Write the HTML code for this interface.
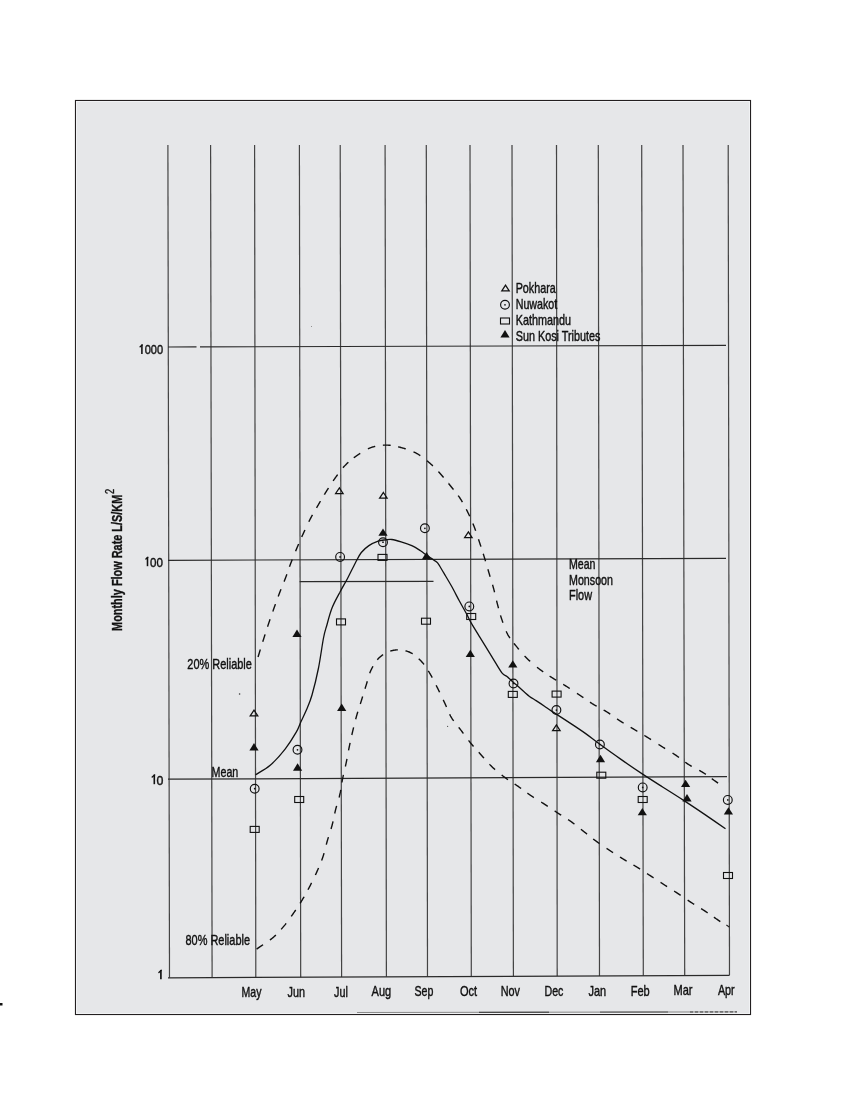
<!DOCTYPE html>
<html><head><meta charset="utf-8"><title>Monthly Flow Rate</title>
<style>html,body{margin:0;padding:0;background:#fff;width:850px;height:1100px;overflow:hidden}
svg{position:absolute;left:0;top:0;will-change:transform;font-family:"Liberation Sans", sans-serif}</style></head>
<body><svg width="850" height="1100" viewBox="0 0 850 1100">
<rect x="75.5" y="100.5" width="675" height="914" fill="#e6e7e9" stroke="#231f20" stroke-width="1.15"/>
<rect x="76.5" y="101.5" width="673" height="912" fill="none" stroke="#f1f2f4" stroke-width="1"/>
<g stroke="#444" stroke-width="1.2" fill="none"><line x1="167.9" y1="145.0" x2="169.5" y2="977.8"/><line x1="210.6" y1="145.0" x2="212.1" y2="977.6"/><line x1="254.6" y1="145.0" x2="255.8" y2="977.4"/><line x1="299.4" y1="145.0" x2="300.7" y2="977.2"/><line x1="340.2" y1="145.0" x2="341.6" y2="977.0"/><line x1="385.1" y1="145.0" x2="386.4" y2="976.8"/><line x1="426.3" y1="145.0" x2="427.5" y2="976.6"/><line x1="470.0" y1="145.0" x2="471.3" y2="976.4"/><line x1="512.0" y1="145.0" x2="513.4" y2="976.3"/><line x1="556.5" y1="145.0" x2="557.2" y2="976.1"/><line x1="598.3" y1="145.0" x2="599.5" y2="975.9"/><line x1="641.7" y1="145.0" x2="643.3" y2="975.7"/><line x1="683.0" y1="145.0" x2="684.7" y2="975.5"/><line x1="728.2" y1="145.0" x2="729.5" y2="975.3"/></g>
<g stroke="#2a2a2a" stroke-width="1.2" fill="none"><line x1="168.0" y1="560.3" x2="726.0" y2="558.4"/><line x1="168.0" y1="779.2" x2="727.0" y2="776.6"/><line x1="168.0" y1="977.8" x2="729.5" y2="975.3"/><line x1="168" y1="347.0" x2="196.5" y2="346.9"/><line x1="200" y1="346.9" x2="726" y2="345.4"/><line x1="299.6" y1="581.6" x2="433.5" y2="581.4"/></g>
<path d="M255.6 774.7 C258.0 773.1 265.2 769.6 270.2 765.3 C275.1 761.0 281.0 754.3 285.3 748.8 C289.6 743.3 293.5 736.9 296.1 732.4 C298.7 727.9 299.1 725.8 300.8 722.0 C302.5 718.2 304.6 714.3 306.5 709.8 C308.4 705.3 310.0 702.0 312.0 695.0 C314.0 688.0 316.6 677.5 318.5 668.0 C320.4 658.5 322.1 645.2 323.5 638.0 C324.9 630.8 325.4 630.1 326.9 625.0 C328.3 619.9 330.0 613.1 332.2 607.6 C334.4 602.1 337.3 597.1 339.9 592.3 C342.4 587.4 344.9 583.4 347.5 578.5 C350.1 573.6 352.9 567.5 355.2 563.2 C357.5 558.9 359.0 555.4 361.3 552.5 C363.6 549.6 366.1 547.5 368.9 545.6 C371.7 543.7 375.3 542.1 378.1 541.1 C380.9 540.1 383.5 540.1 385.8 539.8 C388.1 539.5 389.3 539.2 391.9 539.5 C394.4 539.8 397.8 540.8 401.1 541.8 C404.4 542.8 408.5 544.1 411.8 545.6 C415.1 547.1 418.3 549.3 420.9 551.0 C423.4 552.7 424.9 554.1 427.1 555.6 C429.3 557.1 432.2 558.9 434.0 560.2 C435.8 561.5 436.2 561.0 437.8 563.2 C439.4 565.4 441.6 569.4 443.9 573.2 C446.2 577.1 449.0 581.7 451.6 586.3 C454.2 590.9 456.8 596.2 459.4 601.0 C462.0 605.8 465.2 611.3 467.1 614.9 C469.0 618.5 468.9 619.0 471.0 622.6 C473.1 626.2 476.0 630.9 479.5 636.6 C483.0 642.3 488.1 650.6 491.8 656.6 C495.5 662.6 499.3 669.5 501.9 672.9 C504.5 676.2 505.4 675.1 507.3 676.7 C509.2 678.3 511.7 680.9 513.5 682.5 C515.3 684.1 516.5 685.0 518.2 686.5 C519.9 688.0 521.9 690.0 523.8 691.6 C525.7 693.2 527.5 694.9 529.5 696.4 C531.5 697.9 533.6 699.0 536.1 700.6 C538.6 702.2 541.9 704.4 544.5 706.2 C547.1 708.0 547.6 708.5 552.0 711.4 C556.4 714.3 565.4 720.0 570.9 723.6 C576.4 727.2 580.2 729.7 585.0 733.1 C589.8 736.5 593.9 739.9 599.9 744.3 C605.9 748.7 613.9 754.4 621.0 759.4 C628.1 764.4 635.6 769.5 642.6 774.1 C649.6 778.7 656.1 782.8 663.0 787.2 C669.9 791.6 677.0 796.0 684.0 800.6 C691.0 805.2 698.1 809.9 705.0 814.6 C711.9 819.3 722.1 826.4 725.5 828.8" fill="none" stroke="#111" stroke-width="1.3"/>
<path d="M258.04 656.92 L259.20 653.20 L259.31 652.86 L259.43 652.47 L259.56 652.04 L259.71 651.56 L259.87 651.04 L260.04 650.49 L260.22 649.90 L260.35 649.47M262.73 641.82 L262.83 641.51 L263.05 640.79 L263.27 640.09 L263.49 639.41 L263.70 638.74 L263.90 638.10 L264.10 637.47 L264.30 636.84 L264.50 636.21 L264.70 635.58 L264.90 634.96 L265.08 634.38M267.57 626.70 L267.75 626.15 L267.96 625.52 L268.17 624.89 L268.38 624.26 L268.59 623.63 L268.80 623.00 L269.01 622.37 L269.23 621.74 L269.44 621.10 L269.66 620.47 L269.87 619.84 L270.06 619.31M272.79 611.47 L272.98 610.96 L273.20 610.32 L273.43 609.69 L273.65 609.06 L273.88 608.43 L274.10 607.80 L274.33 607.17 L274.55 606.54 L274.78 605.91 L275.00 605.29 L275.23 604.66 L275.42 604.13M278.22 596.45 L278.42 595.91 L278.66 595.29 L278.89 594.66 L279.13 594.04 L279.36 593.42 L279.60 592.80 L279.84 592.18 L280.08 591.56 L280.32 590.94 L280.57 590.32 L280.81 589.70 L281.03 589.17M284.08 581.63 L284.30 581.08 L284.55 580.46 L284.79 579.85 L285.03 579.23 L285.27 578.62 L285.50 578.00 L285.73 577.38 L285.96 576.77 L286.18 576.16 L286.41 575.54 L286.63 574.93 L286.84 574.34M289.45 566.86 L289.64 566.34 L289.87 565.71 L290.09 565.09 L290.33 564.46 L290.56 563.83 L290.80 563.20 L291.04 562.56 L291.29 561.92 L291.54 561.28 L291.79 560.63 L292.05 559.98 L292.21 559.56M295.60 551.20 L295.78 550.77 L296.04 550.12 L296.31 549.48 L296.58 548.85 L296.84 548.22 L297.10 547.60 L297.36 546.98 L297.62 546.38 L297.87 545.77 L298.13 545.18 L298.38 544.58 L298.62 544.01M301.68 537.05 L301.94 536.48 L302.20 535.90 L302.47 535.30 L302.75 534.71 L303.02 534.11 L303.30 533.50 L303.58 532.89 L303.87 532.27 L304.16 531.64 L304.45 531.01 L304.74 530.38 L304.93 529.96M308.83 521.78 L309.02 521.39 L309.34 520.77 L309.65 520.14 L309.97 519.52 L310.28 518.91 L310.60 518.30 L310.92 517.70 L311.24 517.10 L311.56 516.50 L311.88 515.91 L312.21 515.32 L312.46 514.87M316.52 507.86 L316.84 507.31 L317.18 506.75 L317.51 506.19 L317.84 505.62 L318.17 505.06 L318.50 504.50 L318.83 503.94 L319.15 503.38 L319.48 502.82 L319.80 502.27 L320.13 501.72 L320.45 501.17 L320.47 501.13M324.35 494.62 L324.35 494.61 L324.68 494.07 L325.02 493.52 L325.36 492.97 L325.70 492.41 L326.05 491.86 L326.40 491.30 L326.75 490.74 L327.11 490.18 L327.46 489.61 L327.82 489.05 L328.18 488.48 L328.48 488.00M333.15 480.89 L333.43 480.49 L333.82 479.93 L334.21 479.36 L334.60 478.81 L335.00 478.25 L335.40 477.70 L335.80 477.15 L336.20 476.59 L336.61 476.04 L337.02 475.48 L337.43 474.92 L337.70 474.55M342.98 467.79 L343.38 467.33 L343.82 466.83 L344.26 466.33 L344.70 465.85 L345.15 465.37 L345.60 464.90 L346.05 464.44 L346.50 463.99 L346.95 463.55 L347.39 463.12 L347.84 462.70 L348.29 462.28 L348.40 462.18M353.81 457.75 L353.90 457.68 L354.40 457.32 L354.91 456.95 L355.42 456.59 L355.94 456.23 L356.46 455.86 L357.00 455.50 L357.54 455.13 L358.10 454.76 L358.66 454.39 L359.23 454.01 L359.80 453.63 L360.25 453.34M367.91 448.91 L368.37 448.69 L369.00 448.40 L369.63 448.13 L370.25 447.87 L370.88 447.63 L371.50 447.40 L372.12 447.19 L372.75 446.99 L373.37 446.80 L374.00 446.62 L374.64 446.46 L375.24 446.31M382.90 445.19 L382.96 445.19 L383.61 445.15 L384.25 445.13 L384.89 445.11 L385.53 445.10 L386.16 445.10 L386.80 445.10 L387.44 445.11 L388.07 445.14 L388.71 445.18 L389.34 445.22 L389.98 445.28 L390.61 445.35 L390.69 445.36M398.23 446.79 L398.85 446.95 L399.48 447.11 L400.11 447.28 L400.74 447.45 L401.37 447.62 L402.00 447.80 L402.63 447.98 L403.26 448.16 L403.90 448.35 L404.53 448.54 L405.17 448.74 L405.74 448.92M413.51 451.86 L414.01 452.08 L414.62 452.37 L415.22 452.67 L415.82 452.97 L416.41 453.28 L417.00 453.60 L417.58 453.93 L418.16 454.27 L418.73 454.62 L419.31 454.97 L419.87 455.34 L420.32 455.64M427.04 460.76 L427.46 461.11 L427.97 461.55 L428.48 461.99 L428.99 462.43 L429.50 462.86 L430.00 463.30 L430.50 463.74 L430.99 464.18 L431.48 464.62 L431.96 465.07 L432.44 465.52 L432.87 465.94M438.37 471.62 L438.81 472.09 L439.25 472.57 L439.69 473.05 L440.12 473.53 L440.56 474.02 L441.00 474.50 L441.44 474.98 L441.87 475.47 L442.30 475.96 L442.73 476.45 L443.16 476.94 L443.58 477.43M448.56 483.46 L448.57 483.46 L448.97 483.97 L449.38 484.47 L449.79 484.98 L450.19 485.49 L450.60 485.99 L451.00 486.50 L451.40 487.01 L451.81 487.51 L452.22 488.01 L452.62 488.51 L453.03 489.02 L453.43 489.52 L453.45 489.53M458.18 495.59 L458.19 495.61 L458.57 496.13 L458.94 496.65 L459.32 497.18 L459.68 497.72 L460.04 498.26 L460.40 498.80 L460.75 499.35 L461.10 499.90 L461.45 500.46 L461.79 501.02 L462.12 501.58 L462.44 502.12M466.26 509.21 L466.53 509.74 L466.83 510.34 L467.12 510.93 L467.42 511.52 L467.71 512.11 L468.00 512.70 L468.29 513.29 L468.57 513.88 L468.86 514.47 L469.14 515.05 L469.41 515.64 L469.68 516.22M472.85 523.48 L473.07 524.00 L473.32 524.61 L473.56 525.23 L473.81 525.85 L474.06 526.47 L474.30 527.10 L474.54 527.73 L474.78 528.37 L475.02 529.02 L475.26 529.67 L475.50 530.32 L475.65 530.76M478.48 539.19 L478.64 539.66 L478.85 540.32 L479.06 540.97 L479.28 541.62 L479.49 542.26 L479.70 542.90 L479.91 543.53 L480.12 544.16 L480.32 544.78 L480.53 545.39 L480.73 546.00 L480.92 546.60M483.24 553.78 L483.25 553.81 L483.44 554.42 L483.63 555.03 L483.82 555.64 L484.01 556.26 L484.21 556.88 L484.40 557.50 L484.59 558.13 L484.79 558.76 L484.98 559.39 L485.17 560.03 L485.36 560.67 L485.53 561.23M487.90 569.26 L488.04 569.76 L488.23 570.41 L488.43 571.06 L488.62 571.71 L488.81 572.35 L489.00 573.00 L489.19 573.65 L489.39 574.29 L489.58 574.93 L489.77 575.58 L489.97 576.22 L490.13 576.73M492.54 584.75 L492.69 585.24 L492.87 585.89 L493.06 586.54 L493.24 587.19 L493.42 587.85 L493.60 588.50 L493.78 589.16 L493.95 589.81 L494.12 590.48 L494.29 591.14 L494.45 591.81 L494.57 592.28M496.55 600.62 L496.68 601.16 L496.84 601.81 L497.00 602.47 L497.17 603.12 L497.33 603.76 L497.50 604.40 L497.67 605.03 L497.83 605.66 L498.00 606.29 L498.16 606.91 L498.32 607.52 L498.48 608.14 L498.49 608.17M500.50 615.39 L500.69 615.99 L500.88 616.61 L501.08 617.22 L501.28 617.84 L501.49 618.47 L501.70 619.10 L501.92 619.74 L502.14 620.39 L502.36 621.04 L502.59 621.71 L502.82 622.38 L502.96 622.79M506.21 631.29 L506.42 631.78 L506.71 632.41 L507.00 633.03 L507.30 633.63 L507.60 634.22 L507.90 634.80 L508.21 635.36 L508.52 635.91 L508.84 636.44 L509.16 636.96 L509.48 637.47 L509.81 637.97 L509.92 638.14M513.92 643.39 L514.05 643.55 L514.43 644.01 L514.82 644.47 L515.21 644.94 L515.60 645.42 L516.00 645.91 L516.40 646.40 L516.81 646.90 L517.22 647.40 L517.63 647.91 L518.06 648.43 L518.48 648.94 L518.87 649.41M524.58 655.91 L524.86 656.22 L525.35 656.72 L525.83 657.22 L526.32 657.72 L526.81 658.21 L527.30 658.70 L527.80 659.18 L528.30 659.66 L528.81 660.15 L529.32 660.62 L529.84 661.10 L530.14 661.37M537.02 667.20 L537.40 667.50 L537.94 667.93 L538.49 668.36 L539.03 668.78 L539.57 669.19 L540.10 669.60 L540.63 670.00 L541.16 670.40 L541.69 670.79 L542.22 671.17 L542.75 671.55 L543.25 671.90M549.61 676.11 L549.64 676.13 L550.18 676.47 L550.72 676.82 L551.26 677.16 L551.81 677.50 L552.35 677.85 L552.90 678.20 L553.45 678.55 L554.01 678.89 L554.56 679.24 L555.12 679.58 L555.68 679.92 L556.22 680.24M563.18 684.36 L563.65 684.64 L564.22 684.99 L564.79 685.33 L565.36 685.69 L565.93 686.04 L566.50 686.40 L567.07 686.76 L567.64 687.13 L568.21 687.50 L568.78 687.87 L569.36 688.24 L569.78 688.52M576.96 693.32 L577.38 693.61 L577.95 693.99 L578.52 694.37 L579.08 694.75 L579.64 695.13 L580.20 695.50 L580.76 695.87 L581.31 696.25 L581.86 696.62 L582.41 697.00 L582.96 697.37 L583.42 697.69M590.02 702.20 L590.54 702.54 L591.09 702.90 L591.64 703.25 L592.19 703.61 L592.74 703.95 L593.30 704.30 L593.86 704.64 L594.42 704.98 L594.99 705.31 L595.55 705.63 L596.12 705.95 L596.67 706.26M603.64 710.03 L604.16 710.32 L604.73 710.65 L605.30 710.98 L605.87 711.31 L606.44 711.65 L607.00 712.00 L607.56 712.35 L608.12 712.71 L608.68 713.08 L609.24 713.45 L609.79 713.82 L610.26 714.14M617.06 718.93 L617.51 719.24 L618.06 719.62 L618.62 720.00 L619.18 720.37 L619.74 720.74 L620.30 721.10 L620.86 721.46 L621.43 721.81 L621.99 722.17 L622.56 722.52 L623.13 722.87 L623.61 723.16M630.64 727.32 L631.14 727.61 L631.71 727.94 L632.28 728.28 L632.86 728.62 L633.43 728.96 L634.00 729.30 L634.57 729.64 L635.14 729.98 L635.71 730.32 L636.28 730.66 L636.85 730.99 L637.35 731.29M644.37 735.47 L644.82 735.74 L645.39 736.09 L645.97 736.44 L646.54 736.79 L647.12 737.14 L647.70 737.50 L648.28 737.86 L648.86 738.22 L649.44 738.59 L650.03 738.96 L650.61 739.33 L651.00 739.58M658.51 744.41 L658.86 744.63 L659.45 745.01 L660.04 745.38 L660.63 745.76 L661.21 746.13 L661.80 746.50 L662.39 746.87 L662.97 747.23 L663.56 747.60 L664.16 747.96 L664.75 748.32 L665.12 748.55M672.53 753.08 L672.98 753.36 L673.55 753.72 L674.12 754.09 L674.68 754.46 L675.24 754.83 L675.80 755.20 L676.35 755.57 L676.89 755.95 L677.43 756.33 L677.96 756.72 L678.49 757.11 L678.97 757.47M685.19 762.19 L685.69 762.56 L686.22 762.94 L686.76 763.31 L687.30 763.68 L687.85 764.04 L688.40 764.40 L688.96 764.75 L689.53 765.10 L690.11 765.44 L690.70 765.78 L691.29 766.12 L691.76 766.38M699.22 770.35 L699.74 770.63 L700.32 770.96 L700.90 771.29 L701.48 771.62 L702.04 771.96 L702.60 772.30 L703.16 772.65 L703.73 773.02 L704.31 773.40 L704.90 773.79 L705.50 774.19 L705.86 774.44M711.74 778.61 L711.78 778.64 L712.27 779.00 L712.73 779.34 L713.17 779.66 L713.58 779.96 L713.96 780.23 L714.31 780.48 L714.62 780.71 L714.90 780.90 L718.09 783.15" fill="none" stroke="#111" stroke-width="1.4" stroke-linecap="butt"/>
<path d="M256.60 949.12 L259.80 946.90 L260.10 946.69 L260.45 946.46 L260.84 946.20 L261.27 945.91 L261.73 945.60 L262.23 945.27 L262.76 944.93 L263.05 944.74M269.93 940.01 L270.19 939.82 L270.79 939.37 L271.38 938.92 L271.95 938.47 L272.49 938.03 L273.00 937.60 L273.49 937.17 L273.98 936.74 L274.46 936.30 L274.94 935.87 L275.41 935.43 L275.87 934.98 L275.88 934.97M281.17 929.36 L281.57 928.90 L282.00 928.40 L282.42 927.91 L282.85 927.41 L283.27 926.91 L283.70 926.40 L284.13 925.89 L284.55 925.37 L284.98 924.85 L285.40 924.31 L285.82 923.78 L286.15 923.36M291.26 916.39 L291.55 915.98 L291.95 915.42 L292.34 914.86 L292.73 914.30 L293.12 913.75 L293.50 913.20 L293.88 912.65 L294.26 912.11 L294.64 911.56 L295.01 911.02 L295.39 910.48 L295.72 909.99M300.05 903.42 L300.39 902.87 L300.73 902.32 L301.08 901.77 L301.42 901.22 L301.76 900.66 L302.10 900.10 L302.44 899.54 L302.77 898.98 L303.11 898.42 L303.44 897.85 L303.77 897.29 L304.09 896.74M307.98 889.75 L308.24 889.25 L308.56 888.67 L308.87 888.08 L309.18 887.49 L309.49 886.89 L309.80 886.30 L310.11 885.70 L310.42 885.10 L310.73 884.50 L311.04 883.89 L311.35 883.28 L311.58 882.83M315.38 875.05 L315.59 874.59 L315.88 873.97 L316.17 873.35 L316.45 872.73 L316.73 872.11 L317.00 871.50 L317.27 870.89 L317.54 870.28 L317.81 869.68 L318.08 869.07 L318.34 868.47 L318.57 867.93M321.59 860.57 L321.79 860.03 L322.02 859.41 L322.24 858.79 L322.46 858.17 L322.68 857.53 L322.90 856.90 L323.11 856.26 L323.32 855.61 L323.52 854.96 L323.72 854.31 L323.91 853.65 L324.04 853.17M326.27 844.66 L326.38 844.24 L326.56 843.57 L326.74 842.90 L326.92 842.23 L327.11 841.56 L327.30 840.90 L327.49 840.24 L327.69 839.58 L327.89 838.92 L328.09 838.26 L328.30 837.61 L328.43 837.17M331.03 828.95 L331.18 828.45 L331.37 827.80 L331.56 827.15 L331.74 826.50 L331.92 825.85 L332.10 825.20 L332.27 824.55 L332.43 823.90 L332.59 823.26 L332.75 822.61 L332.90 821.97 L333.03 821.41M334.72 813.50 L334.83 812.96 L334.98 812.31 L335.13 811.66 L335.28 811.01 L335.44 810.36 L335.60 809.70 L335.77 809.04 L335.94 808.38 L336.12 807.72 L336.30 807.05 L336.49 806.38 L336.62 805.93M339.05 797.48 L339.19 796.98 L339.36 796.31 L339.53 795.66 L339.69 795.00 L339.85 794.35 L340.00 793.70 L340.14 793.06 L340.28 792.42 L340.40 791.78 L340.53 791.15 L340.64 790.53 L340.75 789.90 L340.76 789.87M341.92 782.54 L341.92 782.50 L342.02 781.87 L342.13 781.25 L342.24 780.62 L342.35 779.98 L342.47 779.34 L342.60 778.70 L342.73 778.05 L342.87 777.40 L343.01 776.75 L343.15 776.09 L343.29 775.43 L343.42 774.89M345.36 766.51 L345.47 766.06 L345.62 765.38 L345.77 764.71 L345.91 764.04 L346.06 763.37 L346.20 762.70 L346.34 762.03 L346.47 761.36 L346.61 760.69 L346.74 760.01 L346.87 759.34 L346.96 758.88M348.54 750.43 L348.64 749.91 L348.77 749.24 L348.90 748.58 L349.03 747.92 L349.17 747.26 L349.30 746.60 L349.44 745.95 L349.57 745.29 L349.71 744.64 L349.84 744.00 L349.98 743.35 L350.10 742.78M351.81 735.00 L351.95 734.42 L352.10 733.78 L352.24 733.13 L352.39 732.49 L352.55 731.85 L352.70 731.20 L352.85 730.55 L353.01 729.90 L353.17 729.25 L353.32 728.60 L353.48 727.94 L353.61 727.41M355.67 719.26 L355.80 718.75 L355.98 718.10 L356.16 717.45 L356.34 716.80 L356.52 716.15 L356.70 715.50 L356.88 714.85 L357.07 714.21 L357.26 713.57 L357.45 712.93 L357.65 712.28 L357.81 711.76M360.32 703.92 L360.49 703.37 L360.70 702.74 L360.90 702.10 L361.10 701.47 L361.30 700.84 L361.50 700.20 L361.70 699.56 L361.89 698.93 L362.09 698.30 L362.29 697.66 L362.48 697.03 L362.65 696.47M365.03 688.72 L365.20 688.17 L365.40 687.54 L365.60 686.90 L365.80 686.27 L366.00 685.64 L366.20 685.00 L366.40 684.36 L366.59 683.72 L366.78 683.07 L366.97 682.43 L367.16 681.77 L367.30 681.26M369.69 673.30 L369.91 672.72 L370.14 672.10 L370.39 671.49 L370.65 670.88 L370.92 670.29 L371.20 669.70 L371.49 669.12 L371.78 668.53 L372.08 667.95 L372.39 667.36 L372.70 666.78 L372.99 666.24M377.28 659.78 L377.35 659.70 L377.76 659.22 L378.19 658.75 L378.63 658.29 L379.07 657.84 L379.53 657.41 L380.00 657.00 L380.48 656.60 L380.98 656.20 L381.49 655.81 L382.02 655.43 L382.56 655.05 L383.11 654.68 L383.13 654.67M390.23 651.18 L390.29 651.16 L390.92 650.95 L391.54 650.77 L392.16 650.60 L392.77 650.45 L393.39 650.31 L394.00 650.20 L394.61 650.10 L395.23 650.02 L395.86 649.96 L396.50 649.91 L397.14 649.88 L397.78 649.86 L397.88 649.86M405.50 650.79 L405.58 650.81 L406.20 650.97 L406.82 651.15 L407.43 651.35 L408.03 651.55 L408.62 651.77 L409.20 652.00 L409.77 652.25 L410.34 652.51 L410.90 652.80 L411.46 653.10 L412.01 653.42 L412.56 653.76 L412.65 653.81M418.75 658.73 L419.22 659.18 L419.69 659.64 L420.15 660.11 L420.61 660.57 L421.06 661.04 L421.50 661.50 L421.93 661.97 L422.36 662.44 L422.78 662.92 L423.18 663.41 L423.58 663.90 L423.97 664.41 L424.02 664.47M428.29 670.86 L428.61 671.38 L428.94 671.94 L429.28 672.50 L429.62 673.06 L429.96 673.63 L430.30 674.20 L430.64 674.77 L430.98 675.35 L431.31 675.93 L431.64 676.52 L431.97 677.12 L432.23 677.59M436.17 685.31 L436.38 685.73 L436.68 686.34 L436.99 686.96 L437.29 687.58 L437.60 688.19 L437.90 688.80 L438.20 689.41 L438.51 690.02 L438.81 690.63 L439.11 691.24 L439.40 691.85 L439.62 692.30M443.24 699.87 L443.48 700.38 L443.76 700.98 L444.05 701.59 L444.33 702.19 L444.62 702.80 L444.90 703.40 L445.18 704.00 L445.45 704.61 L445.72 705.21 L445.99 705.82 L446.25 706.43 L446.48 706.97M449.66 714.26 L449.94 714.83 L450.23 715.41 L450.53 715.99 L450.85 716.57 L451.17 717.14 L451.50 717.70 L451.84 718.26 L452.19 718.81 L452.55 719.36 L452.92 719.90 L453.30 720.44 L453.66 720.95M458.69 727.33 L459.03 727.76 L459.45 728.28 L459.87 728.80 L460.28 729.33 L460.69 729.86 L461.10 730.40 L461.51 730.94 L461.91 731.48 L462.32 732.03 L462.73 732.58 L463.13 733.13 L463.43 733.53M468.58 740.44 L468.90 740.86 L469.32 741.39 L469.74 741.93 L470.16 742.46 L470.58 742.98 L471.00 743.50 L471.42 744.01 L471.85 744.52 L472.27 745.03 L472.70 745.53 L473.13 746.03 L473.52 746.48M478.77 752.32 L479.20 752.78 L479.64 753.26 L480.08 753.74 L480.52 754.23 L480.96 754.71 L481.40 755.20 L481.84 755.69 L482.28 756.18 L482.72 756.68 L483.16 757.18 L483.59 757.68 L483.98 758.12M489.45 764.24 L489.83 764.63 L490.29 765.11 L490.76 765.59 L491.24 766.07 L491.72 766.54 L492.20 767.00 L492.69 767.46 L493.19 767.92 L493.69 768.38 L494.19 768.83 L494.70 769.29 L495.08 769.62M501.70 775.04 L502.11 775.36 L502.65 775.78 L503.19 776.19 L503.73 776.59 L504.26 777.00 L504.80 777.40 L505.34 777.80 L505.88 778.19 L506.42 778.57 L506.96 778.95 L507.50 779.33 L507.98 779.66M514.66 784.02 L515.19 784.37 L515.73 784.73 L516.28 785.09 L516.82 785.46 L517.36 785.83 L517.90 786.20 L518.44 786.58 L518.97 786.95 L519.50 787.33 L520.03 787.71 L520.55 788.10 L521.07 788.48M527.41 793.16 L527.88 793.50 L528.42 793.89 L528.96 794.27 L529.50 794.65 L530.05 795.02 L530.60 795.40 L531.16 795.77 L531.72 796.15 L532.28 796.52 L532.85 796.89 L533.43 797.26 L533.86 797.54M541.21 802.11 L541.62 802.37 L542.20 802.73 L542.78 803.10 L543.36 803.46 L543.93 803.83 L544.50 804.20 L545.07 804.57 L545.63 804.94 L546.20 805.31 L546.76 805.68 L547.32 806.05 L547.76 806.34M554.65 810.95 L555.12 811.26 L555.67 811.63 L556.23 812.00 L556.78 812.37 L557.34 812.73 L557.90 813.10 L558.46 813.47 L559.02 813.83 L559.58 814.19 L560.14 814.55 L560.70 814.90 L561.18 815.21M568.08 819.60 L568.55 819.91 L569.11 820.28 L569.66 820.66 L570.21 821.03 L570.76 821.41 L571.30 821.80 L571.84 822.19 L572.38 822.58 L572.92 822.98 L573.46 823.38 L574.00 823.79 L574.43 824.12M580.94 829.28 L581.39 829.64 L581.91 830.05 L582.44 830.47 L582.96 830.88 L583.48 831.29 L584.00 831.70 L584.52 832.11 L585.04 832.51 L585.55 832.92 L586.06 833.32 L586.57 833.73 L587.06 834.12M593.18 838.96 L593.67 839.33 L594.19 839.73 L594.71 840.12 L595.23 840.51 L595.76 840.91 L596.30 841.30 L596.84 841.69 L597.38 842.08 L597.93 842.47 L598.48 842.86 L599.03 843.25 L599.48 843.56M606.55 848.35 L606.97 848.63 L607.54 849.01 L608.10 849.38 L608.67 849.76 L609.24 850.13 L609.80 850.50 L610.36 850.87 L610.92 851.24 L611.49 851.61 L612.05 851.98 L612.61 852.34 L613.06 852.64M619.98 857.05 L620.49 857.36 L621.05 857.71 L621.61 858.06 L622.17 858.41 L622.74 858.76 L623.30 859.10 L623.86 859.44 L624.42 859.78 L624.99 860.12 L625.55 860.45 L626.11 860.78 L626.65 861.09M633.45 865.00 L633.99 865.31 L634.55 865.65 L635.11 865.98 L635.67 866.32 L636.24 866.66 L636.80 867.00 L637.36 867.35 L637.92 867.70 L638.49 868.05 L639.05 868.40 L639.61 868.76 L640.10 869.07M647.03 873.57 L647.49 873.87 L648.05 874.23 L648.61 874.60 L649.17 874.97 L649.74 875.33 L650.30 875.70 L650.86 876.06 L651.42 876.43 L651.99 876.80 L652.55 877.16 L653.11 877.53 L653.57 877.83M660.53 882.38 L660.98 882.67 L661.54 883.04 L662.11 883.40 L662.67 883.77 L663.24 884.14 L663.80 884.50 L664.36 884.86 L664.93 885.23 L665.50 885.59 L666.06 885.95 L666.63 886.31 L667.08 886.60M674.13 891.08 L674.57 891.36 L675.14 891.73 L675.70 892.09 L676.27 892.46 L676.84 892.83 L677.40 893.20 L677.96 893.57 L678.53 893.95 L679.09 894.32 L679.66 894.70 L680.22 895.08 L680.64 895.37M687.65 900.15 L688.09 900.44 L688.65 900.82 L689.21 901.19 L689.78 901.56 L690.34 901.93 L690.90 902.30 L691.46 902.66 L692.03 903.02 L692.59 903.38 L693.16 903.74 L693.73 904.09 L694.20 904.38M701.11 908.61 L701.64 908.94 L702.20 909.29 L702.75 909.64 L703.30 909.99 L703.85 910.34 L704.40 910.70 L704.96 911.06 L705.53 911.44 L706.11 911.83 L706.71 912.23 L707.32 912.64 L707.64 912.86M713.90 917.18 L714.35 917.49 L714.84 917.83 L715.30 918.15 L715.73 918.45 L716.13 918.73 L716.49 918.98 L716.81 919.20 L717.10 919.40 L720.31 921.61" fill="none" stroke="#111" stroke-width="1.4" stroke-linecap="butt"/>
<path d="M726.4 925.1 L729.2 926.9" fill="none" stroke="#222" stroke-width="1.2"/>
<path d="M254.0 710.1 L257.8 715.8 L250.2 715.8 Z" fill="none" stroke="#111" stroke-width="1.25" stroke-linejoin="miter"/>
<path d="M339.4 487.8 L343.1 493.5 L335.6 493.5 Z" fill="none" stroke="#111" stroke-width="1.25" stroke-linejoin="miter"/>
<path d="M383.4 492.5 L387.1 498.2 L379.6 498.2 Z" fill="none" stroke="#111" stroke-width="1.25" stroke-linejoin="miter"/>
<path d="M468.4 531.9 L472.1 537.6 L464.6 537.6 Z" fill="none" stroke="#111" stroke-width="1.25" stroke-linejoin="miter"/>
<path d="M556.4 724.9 L560.1 730.6 L552.6 730.6 Z" fill="none" stroke="#111" stroke-width="1.25" stroke-linejoin="miter"/>
<path d="M505.5 285.1 L509.2 290.8 L501.8 290.8 Z" fill="none" stroke="#111" stroke-width="1.25" stroke-linejoin="miter"/>
<circle cx="254.7" cy="788.7" r="4.4" fill="none" stroke="#111" stroke-width="1.15"/><circle cx="254.7" cy="788.7" r="0.85" fill="#111"/>
<circle cx="297.5" cy="749.8" r="4.4" fill="none" stroke="#111" stroke-width="1.15"/><circle cx="297.5" cy="749.8" r="0.85" fill="#111"/>
<circle cx="340.1" cy="556.9" r="4.4" fill="none" stroke="#111" stroke-width="1.15"/><circle cx="340.1" cy="556.9" r="0.85" fill="#111"/>
<circle cx="383.0" cy="542.2" r="4.4" fill="none" stroke="#111" stroke-width="1.15"/><circle cx="383.0" cy="542.2" r="0.85" fill="#111"/>
<circle cx="424.9" cy="528.3" r="4.4" fill="none" stroke="#111" stroke-width="1.15"/><circle cx="424.9" cy="528.3" r="0.85" fill="#111"/>
<circle cx="469.3" cy="606.4" r="4.4" fill="none" stroke="#111" stroke-width="1.15"/><circle cx="469.3" cy="606.4" r="0.85" fill="#111"/>
<circle cx="513.5" cy="683.5" r="4.4" fill="none" stroke="#111" stroke-width="1.15"/><circle cx="513.5" cy="683.5" r="0.85" fill="#111"/>
<circle cx="556.4" cy="710.1" r="4.4" fill="none" stroke="#111" stroke-width="1.15"/><circle cx="556.4" cy="710.1" r="0.85" fill="#111"/>
<circle cx="599.9" cy="744.5" r="4.4" fill="none" stroke="#111" stroke-width="1.15"/><circle cx="599.9" cy="744.5" r="0.85" fill="#111"/>
<circle cx="642.7" cy="787.4" r="4.4" fill="none" stroke="#111" stroke-width="1.15"/><circle cx="642.7" cy="787.4" r="0.85" fill="#111"/>
<circle cx="727.8" cy="799.9" r="4.4" fill="none" stroke="#111" stroke-width="1.15"/><circle cx="727.8" cy="799.9" r="0.85" fill="#111"/>
<circle cx="505.0" cy="304.8" r="4.4" fill="none" stroke="#111" stroke-width="1.15"/><circle cx="505.0" cy="304.8" r="0.85" fill="#111"/>
<rect x="250.2" y="826.4" width="9" height="6" fill="none" stroke="#111" stroke-width="1.1"/>
<rect x="294.7" y="796.5" width="9" height="6" fill="none" stroke="#111" stroke-width="1.1"/>
<rect x="336.5" y="618.9" width="9" height="6" fill="none" stroke="#111" stroke-width="1.1"/>
<rect x="378.0" y="554.4" width="9" height="6" fill="none" stroke="#111" stroke-width="1.1"/>
<rect x="421.5" y="618.2" width="9" height="6" fill="none" stroke="#111" stroke-width="1.1"/>
<rect x="466.7" y="613.5" width="9" height="6" fill="none" stroke="#111" stroke-width="1.1"/>
<rect x="508.3" y="691.4" width="9" height="6" fill="none" stroke="#111" stroke-width="1.1"/>
<rect x="552.1" y="691.1" width="9" height="6" fill="none" stroke="#111" stroke-width="1.1"/>
<rect x="596.8" y="772.2" width="9" height="6" fill="none" stroke="#111" stroke-width="1.1"/>
<rect x="638.2" y="796.5" width="9" height="6" fill="none" stroke="#111" stroke-width="1.1"/>
<rect x="723.5" y="872.5" width="9" height="6" fill="none" stroke="#111" stroke-width="1.1"/>
<rect x="500.5" y="318.0" width="9" height="6" fill="none" stroke="#111" stroke-width="1.1"/>
<path d="M254.0 743.0 L258.6 750.4 L249.4 750.4 Z" fill="#111"/>
<path d="M297.0 629.6 L301.6 637.0 L292.4 637.0 Z" fill="#111"/>
<path d="M297.6 763.3 L302.2 770.7 L293.0 770.7 Z" fill="#111"/>
<path d="M341.7 703.6 L346.3 711.0 L337.1 711.0 Z" fill="#111"/>
<path d="M383.0 528.4 L387.6 535.8 L378.4 535.8 Z" fill="#111"/>
<path d="M426.5 551.9 L431.1 559.3 L421.9 559.3 Z" fill="#111"/>
<path d="M470.3 649.7 L474.9 657.1 L465.7 657.1 Z" fill="#111"/>
<path d="M512.8 660.2 L517.4 667.6 L508.2 667.6 Z" fill="#111"/>
<path d="M600.5 754.8 L605.1 762.2 L595.9 762.2 Z" fill="#111"/>
<path d="M642.3 807.9 L646.9 815.3 L637.7 815.3 Z" fill="#111"/>
<path d="M685.6 779.7 L690.2 787.1 L681.0 787.1 Z" fill="#111"/>
<path d="M687.0 794.0 L691.6 801.4 L682.4 801.4 Z" fill="#111"/>
<path d="M728.4 807.2 L733.0 814.6 L723.8 814.6 Z" fill="#111"/>
<path d="M505.0 330.0 L509.6 337.4 L500.4 337.4 Z" fill="#111"/>
<g stroke="#111" fill="none"><path d="M141.90 344.60 L141.90 353.90" stroke-width="1.55"/><path d="M140.10 346.80 L142.20 344.90" stroke-width="1.35" stroke-linecap="round"/><path d="M147.50 557.00 L147.50 566.20" stroke-width="1.55"/><path d="M145.90 559.10 L147.80 557.30" stroke-width="1.35" stroke-linecap="round"/><path d="M154.30 774.60 L154.30 784.20" stroke-width="1.60"/><path d="M152.20 777.00 L154.60 774.90" stroke-width="1.35" stroke-linecap="round"/><path d="M160.90 970.00 L160.90 979.30" stroke-width="1.65"/><path d="M158.90 972.50 L161.20 970.30" stroke-width="1.35" stroke-linecap="round"/></g>
<g fill="#111" stroke="#111" stroke-width="0.42" font-family="Liberation Sans, sans-serif"><text x="144.7" y="354.2" font-size="13.7" font-weight="normal" text-anchor="start" textLength="18.4" lengthAdjust="spacingAndGlyphs" >000</text><text x="150.0" y="566.9" font-size="13.7" font-weight="normal" text-anchor="start" textLength="12.9" lengthAdjust="spacingAndGlyphs" >00</text><text x="156.6" y="784.9" font-size="13.7" font-weight="normal" text-anchor="start" textLength="6.9" lengthAdjust="spacingAndGlyphs" >0</text><text x="211.5" y="776.6" font-size="14.3" font-weight="normal" text-anchor="start" textLength="26.8" lengthAdjust="spacingAndGlyphs" >Mean</text><text x="187.3" y="669.4" font-size="14.3" font-weight="normal" text-anchor="start" textLength="64.6" lengthAdjust="spacingAndGlyphs" >20% Reliable</text><text x="185.5" y="944.9" font-size="14.3" font-weight="normal" text-anchor="start" textLength="64.5" lengthAdjust="spacingAndGlyphs" >80% Reliable</text><text x="569.0" y="568.6" font-size="14.3" font-weight="normal" text-anchor="start" textLength="26.5" lengthAdjust="spacingAndGlyphs" >Mean</text><text x="569.0" y="584.6" font-size="14.3" font-weight="normal" text-anchor="start" textLength="44.0" lengthAdjust="spacingAndGlyphs" >Monsoon</text><text x="569.0" y="600.2" font-size="14.3" font-weight="normal" text-anchor="start" textLength="23.0" lengthAdjust="spacingAndGlyphs" >Flow</text><text x="515.7" y="292.6" font-size="14.3" font-weight="normal" text-anchor="start" textLength="40.1" lengthAdjust="spacingAndGlyphs" >Pokhara</text><text x="515.7" y="308.6" font-size="14.3" font-weight="normal" text-anchor="start" textLength="41.6" lengthAdjust="spacingAndGlyphs" >Nuwakot</text><text x="515.7" y="324.7" font-size="14.3" font-weight="normal" text-anchor="start" textLength="55.3" lengthAdjust="spacingAndGlyphs" >Kathmandu</text><text x="515.7" y="340.8" font-size="14.3" font-weight="normal" text-anchor="start" textLength="84.7" lengthAdjust="spacingAndGlyphs" >Sun Kosi Tributes</text><text x="241.6" y="996.8" font-size="14.3" font-weight="normal" text-anchor="start" textLength="19.9" lengthAdjust="spacingAndGlyphs" >May</text><text x="287.5" y="996.7" font-size="14.3" font-weight="normal" text-anchor="start" textLength="17.5" lengthAdjust="spacingAndGlyphs" >Jun</text><text x="334.0" y="996.5" font-size="14.3" font-weight="normal" text-anchor="start" textLength="13.8" lengthAdjust="spacingAndGlyphs" >Jul</text><text x="371.6" y="996.4" font-size="14.3" font-weight="normal" text-anchor="start" textLength="19.6" lengthAdjust="spacingAndGlyphs" >Aug</text><text x="414.5" y="996.3" font-size="14.3" font-weight="normal" text-anchor="start" textLength="18.9" lengthAdjust="spacingAndGlyphs" >Sep</text><text x="460.0" y="996.1" font-size="14.3" font-weight="normal" text-anchor="start" textLength="17.2" lengthAdjust="spacingAndGlyphs" >Oct</text><text x="500.7" y="996.0" font-size="14.3" font-weight="normal" text-anchor="start" textLength="19.3" lengthAdjust="spacingAndGlyphs" >Nov</text><text x="544.5" y="995.8" font-size="14.3" font-weight="normal" text-anchor="start" textLength="18.9" lengthAdjust="spacingAndGlyphs" >Dec</text><text x="588.5" y="995.7" font-size="14.3" font-weight="normal" text-anchor="start" textLength="17.7" lengthAdjust="spacingAndGlyphs" >Jan</text><text x="630.7" y="995.6" font-size="14.3" font-weight="normal" text-anchor="start" textLength="19.0" lengthAdjust="spacingAndGlyphs" >Feb</text><text x="673.5" y="995.4" font-size="14.3" font-weight="normal" text-anchor="start" textLength="19.0" lengthAdjust="spacingAndGlyphs" >Mar</text><text x="717.9" y="995.3" font-size="14.3" font-weight="normal" text-anchor="start" textLength="16.8" lengthAdjust="spacingAndGlyphs" >Apr</text></g>
<g transform="translate(121.6,630.9) rotate(-90)" fill="#111" stroke="#111" stroke-width="0.35" font-family="Liberation Sans, sans-serif"><text x="0.0" y="0.0" font-size="14.5" font-weight="bold" text-anchor="start" textLength="136.2" lengthAdjust="spacingAndGlyphs" >Monthly Flow Rate L/S/KM</text><text x="137.0" y="-8.0" font-size="11.9" font-weight="normal" text-anchor="start" textLength="5.2" lengthAdjust="spacingAndGlyphs" >2</text></g>
<line x1="357" y1="1012.5" x2="737" y2="1011.9" stroke="#8a8a8a" stroke-width="1"/>
<line x1="479" y1="1012.3" x2="549" y2="1012.2" stroke="#333" stroke-width="1"/>
<line x1="600" y1="1012.1" x2="668" y2="1012.0" stroke="#555" stroke-width="1"/>
<line x1="690" y1="1012.0" x2="737" y2="1011.9" stroke="#444" stroke-width="1" stroke-dasharray="3 2"/>
<rect x="0" y="1003" width="2.5" height="2.5" fill="#111"/>
<circle cx="239.6" cy="694" r="0.8" fill="#333"/>
<circle cx="447.6" cy="726.4" r="0.6" fill="#555"/>
<circle cx="311.5" cy="326.5" r="0.5" fill="#777"/>
</svg></body></html>
